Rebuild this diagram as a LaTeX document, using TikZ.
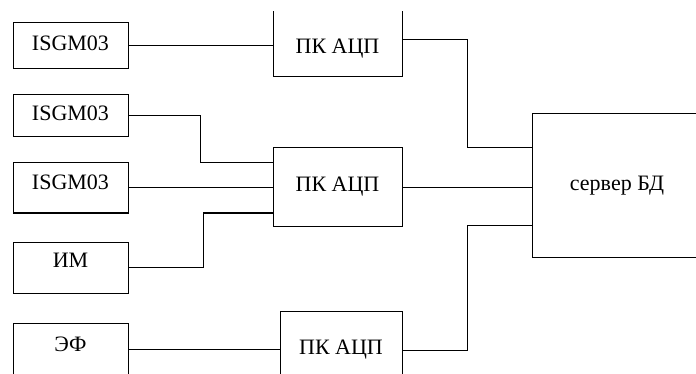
\documentclass[tikz,border=0pt]{standalone}
\usepackage{fontspec}
\setmainfont{Liberation Serif}
\begin{document}
\begin{tikzpicture}[x=0.75pt,y=-0.75pt,line width=0.75pt,
  box/.style={draw, rectangle, inner sep=0pt, font=\fontsize{16.5}{19}\selectfont},
  src/.style={box, minimum width=86.25pt},
  pc/.style={box, minimum width=96.75pt, minimum height=58.5pt}]
\useasboundingbox (0,0) rectangle (696,374);
\clip (0,12) rectangle (696,374);
\node[src, minimum height=34.5pt] (i1) at (70.5,46) {\raisebox{4pt}{ISGM03}};
\node[src, minimum height=31.5pt] (i2) at (70.5,116) {\raisebox{4pt}{ISGM03}};
\node[src, minimum height=37.5pt] (i3) at (70.5,188) {\raisebox{8pt}{ISGM03}};
\node[src, minimum height=38.25pt] (im) at (70.5,267.5) {\raisebox{11pt}{ИМ}};
\node[src, minimum height=39pt] (ef) at (70.5,349) {\raisebox{7pt}{ЭФ}};

\node[pc, minimum height=66pt, label={[yshift=-12pt,font=\fontsize{16.5}{19}\selectfont]center:ПК АЦП}] (pk1) at (337.5,33) {};
\node[pc] (pk2) at (337.5,187) {\raisebox{-8pt}{ПК АЦП}};
\node[pc, minimum width=91.5pt] (pk3) at (341,350) {ПК АЦП};

\node[box, minimum width=127.5pt, minimum height=107.25pt] (srv) at (617,185.5) {сервер БД};

\path[draw] (i1.east) -- (i1.east -| pk1.west);
\path[draw] (i2.east) -| (200,163) -- (pk2.west |- 0,163);
\path[draw] (i3.east) -- (i3.east -| pk2.west);
\path[draw] (im.east) -| (203,213) -- (pk2.west |- 0,213);
\path[draw] (ef.east) -- (ef.east -| pk3.west);
\path[draw] (pk1.east |- 0,40) -| (467,148) -- (srv.west |- 0,148);
\path[draw] (pk2.east |- 0,188) -- (srv.west |- 0,188);
\path[draw] (pk3.east) -| (467,225) -- (srv.west |- 0,225);
\end{tikzpicture}
\end{document}
